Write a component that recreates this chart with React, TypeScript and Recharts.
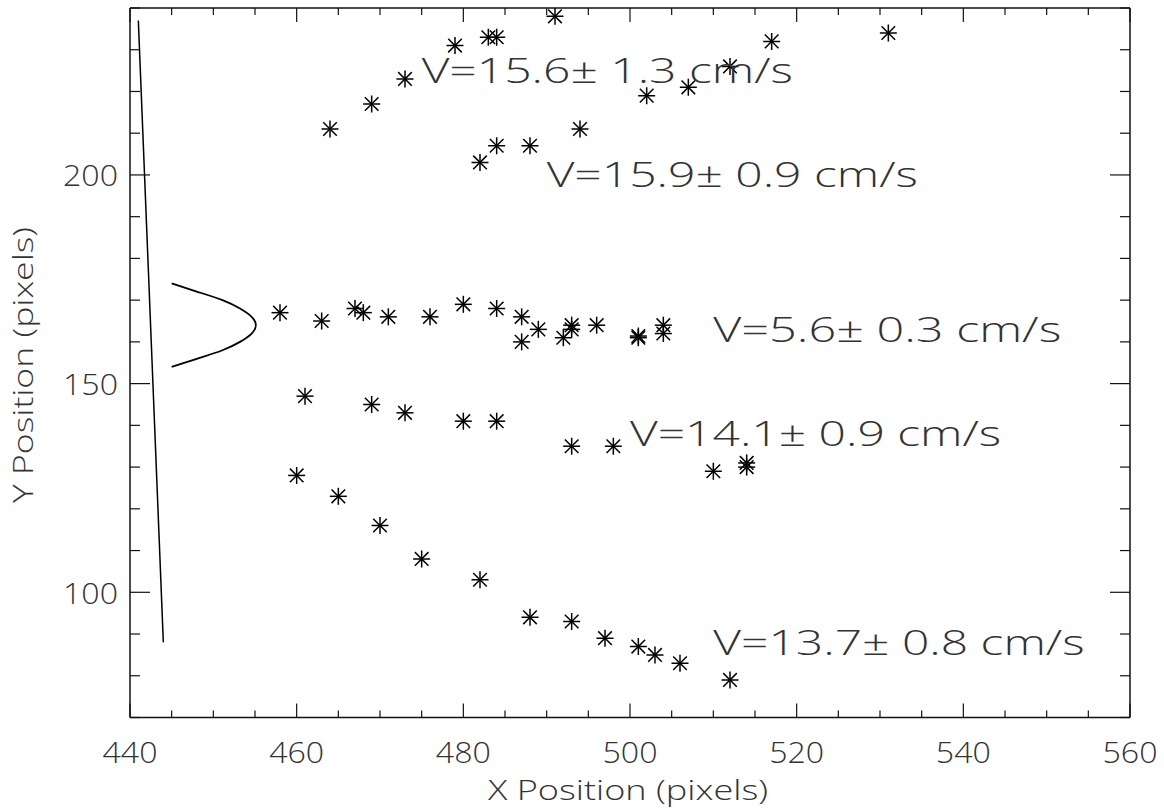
import React from 'react';
import { ScatterChart, Scatter, XAxis, YAxis } from 'recharts';

// axis ticks
const xTicks = [440, 445, 450, 455, 460, 465, 470, 475, 480, 485, 490, 495, 500, 505, 510, 515, 520, 525, 530, 535, 540, 545, 550, 555, 560];
const xMajor = [440, 460, 480, 500, 520, 540, 560];
const yTicks = [70, 80, 90, 100, 110, 120, 130, 140, 150, 160, 170, 180, 190, 200, 210, 220, 230, 240];
const yMajor = [100, 150, 200];

// tracked particles, one list per fitted group
const groupV156 = [
  { x: 464, y: 211 }, { x: 469, y: 217 }, { x: 473, y: 223 }, { x: 479, y: 231 },
  { x: 483, y: 233 }, { x: 484, y: 233 }, { x: 491, y: 238 },
];
const groupV159 = [
  { x: 482, y: 203 }, { x: 484, y: 207 }, { x: 488, y: 207 }, { x: 494, y: 211 },
  { x: 502, y: 219 }, { x: 507, y: 221 }, { x: 512, y: 226 }, { x: 517, y: 232 }, { x: 531, y: 234 },
];
const groupV56 = [
  { x: 458, y: 167 }, { x: 463, y: 165 }, { x: 467, y: 168 }, { x: 468, y: 167 }, { x: 471, y: 166 },
  { x: 476, y: 166 }, { x: 480, y: 169 }, { x: 484, y: 168 }, { x: 487, y: 166 }, { x: 487, y: 160 },
  { x: 489, y: 163 }, { x: 492, y: 161 }, { x: 493, y: 164 }, { x: 493, y: 163 }, { x: 496, y: 164 },
  { x: 501, y: 161 }, { x: 501, y: 161.4 }, { x: 504, y: 164 }, { x: 504, y: 162 },
];
const groupV141 = [
  { x: 461, y: 147 }, { x: 469, y: 145 }, { x: 473, y: 143 }, { x: 480, y: 141 }, { x: 484, y: 141 },
  { x: 493, y: 135 }, { x: 498, y: 135 }, { x: 510, y: 129 }, { x: 514, y: 130 }, { x: 514, y: 131 },
];
const groupV137 = [
  { x: 460, y: 128 }, { x: 465, y: 123 }, { x: 470, y: 116 }, { x: 475, y: 108 }, { x: 482, y: 103 },
  { x: 488, y: 94 }, { x: 493, y: 93 }, { x: 497, y: 89 }, { x: 501, y: 87 }, { x: 503, y: 85 },
  { x: 506, y: 83 }, { x: 512, y: 79 },
];

// slit edge and flow profile
const slitLine = [{ x: 441, y: 237 }, { x: 444, y: 88 }];
const profile = [
  { x: 445.0, y: 174 }, { x: 448.1, y: 172 }, { x: 451.1, y: 170 }, { x: 453.2, y: 168 },
  { x: 454.6, y: 166 }, { x: 455.1, y: 164 }, { x: 454.6, y: 162 }, { x: 453.2, y: 160 },
  { x: 451.1, y: 158 }, { x: 448.1, y: 156 }, { x: 445.0, y: 154 },
];

// fit annotations (anchored at text start / baseline)
const annotations = [
  { x: 475, y: 222, text: 'V=15.6\u00b1 1.3 cm/s' },
  { x: 490, y: 197, text: 'V=15.9\u00b1 0.9 cm/s' },
  { x: 510, y: 160, text: 'V=5.6\u00b1 0.3 cm/s' },
  { x: 500, y: 135, text: 'V=14.1\u00b1 0.9 cm/s' },
  { x: 510, y: 85, text: 'V=13.7\u00b1 0.8 cm/s' },
];

const FONT = '"Open Sans", "DejaVu Sans", sans-serif';
const INK = '#111';
const TEXT = '#333';

const Star = (props: any) => {
  const { cx, cy } = props;
  if (cx == null || cy == null) return <g />;
  const a = 8.5;
  const d = 6.8;
  return (
    <g stroke="#000" strokeWidth={1.5}>
      <line x1={cx - a} y1={cy} x2={cx + a} y2={cy} />
      <line x1={cx} y1={cy - a} x2={cx} y2={cy + a} />
      <line x1={cx - d} y1={cy - d} x2={cx + d} y2={cy + d} />
      <line x1={cx - d} y1={cy + d} x2={cx + d} y2={cy - d} />
    </g>
  );
};

const NoDot = () => <g />;

const Annotation = (props: any) => {
  const { cx, cy, payload } = props;
  if (cx == null || cy == null) return <g />;
  return (
    <text
      x={cx}
      y={cy}
      fontFamily={FONT}
      fontWeight={300}
      fontSize={35}
      fill={TEXT}
      textLength={payload.text.length * 23.2}
      lengthAdjust="spacingAndGlyphs"
    >
      {payload.text}
    </text>
  );
};

const BottomTick = ({ x, y, payload }: any) => {
  const major = xMajor.includes(payload.value);
  return (
    <g>
      <line x1={x} x2={x} y1={y} y2={y - (major ? 14 : 7)} stroke={INK} strokeWidth={1.2} />
      {major && (
        <text x={x} y={y + 45} textAnchor="middle" fontFamily={FONT} fontWeight={300} fontSize={29} fill={TEXT}
          textLength={55} lengthAdjust="spacingAndGlyphs">
          {payload.value}
        </text>
      )}
    </g>
  );
};

const TopTick = ({ x, y, payload }: any) => {
  const major = xMajor.includes(payload.value);
  return <line x1={x} x2={x} y1={y} y2={y + (major ? 14 : 7)} stroke={INK} strokeWidth={1.2} />;
};

const LeftTick = ({ x, y, payload }: any) => {
  const major = yMajor.includes(payload.value);
  return (
    <g>
      <line x1={x} x2={x + (major ? 20 : 10)} y1={y} y2={y} stroke={INK} strokeWidth={1.2} />
      {major && (
        <text x={x - 12} y={y + 11.5} textAnchor="end" fontFamily={FONT} fontWeight={300} fontSize={29} fill={TEXT}
          textLength={55} lengthAdjust="spacingAndGlyphs">
          {payload.value}
        </text>
      )}
    </g>
  );
};

const RightTick = ({ x, y, payload }: any) => {
  const major = yMajor.includes(payload.value);
  return <line x1={x} x2={x - (major ? 20 : 10)} y1={y} y2={y} stroke={INK} strokeWidth={1.2} />;
};

const XTitle = () => (
  <text x={628} y={800} textAnchor="middle" fontFamily={FONT} fontWeight={300} fontSize={28} fill={TEXT}
    textLength={280} lengthAdjust="spacingAndGlyphs">
    X Position (pixels)
  </text>
);

const YTitle = () => (
  <text x={33} y={365} transform="rotate(-90, 33, 365)" textAnchor="middle" fontFamily={FONT} fontWeight={300}
    fontSize={28} fill={TEXT} textLength={276} lengthAdjust="spacingAndGlyphs">
    Y Position (pixels)
  </text>
);

const axisLine = { stroke: INK, strokeWidth: 1.5 };

export default function App() {
  return (
    <div style={{ position: 'absolute', left: 0, top: 0, background: '#fff' }}>
      <ScatterChart width={1164} height={812} margin={{ top: 0, right: 0, bottom: 0, left: 0 }}>
        <XAxis
          xAxisId="bottom"
          type="number"
          dataKey="x"
          domain={[440, 560]}
          allowDataOverflow
          ticks={xTicks}
          interval={0}
          tickSize={0}
          tickMargin={0}
          tickLine={false}
          tick={<BottomTick />}
          axisLine={axisLine}
          height={94.5}
          label={XTitle}
        />
        <XAxis
          xAxisId="top"
          orientation="top"
          type="number"
          dataKey="x"
          domain={[440, 560]}
          allowDataOverflow
          ticks={xTicks}
          interval={0}
          tickSize={0}
          tickMargin={0}
          tickLine={false}
          tick={<TopTick />}
          axisLine={axisLine}
          height={8}
        />
        <YAxis
          yAxisId="left"
          type="number"
          dataKey="y"
          domain={[70, 240]}
          allowDataOverflow
          ticks={yTicks}
          interval={0}
          tickSize={0}
          tickMargin={0}
          tickLine={false}
          tick={<LeftTick />}
          axisLine={axisLine}
          width={130}
          label={YTitle}
        />
        <YAxis
          yAxisId="right"
          orientation="right"
          type="number"
          dataKey="y"
          domain={[70, 240]}
          allowDataOverflow
          ticks={yTicks}
          interval={0}
          tickSize={0}
          tickMargin={0}
          tickLine={false}
          tick={<RightTick />}
          axisLine={axisLine}
          width={34}
        />
        <Scatter xAxisId="bottom" yAxisId="left" data={slitLine} shape={NoDot}
          line={{ stroke: '#000', strokeWidth: 1.5 }} isAnimationActive={false} />
        <Scatter xAxisId="bottom" yAxisId="left" data={profile} shape={NoDot} lineJointType="natural"
          line={{ stroke: '#000', strokeWidth: 1.8 }} isAnimationActive={false} />
        <Scatter xAxisId="bottom" yAxisId="left" data={groupV156} shape={Star} isAnimationActive={false} />
        <Scatter xAxisId="bottom" yAxisId="left" data={groupV159} shape={Star} isAnimationActive={false} />
        <Scatter xAxisId="bottom" yAxisId="left" data={groupV56} shape={Star} isAnimationActive={false} />
        <Scatter xAxisId="bottom" yAxisId="left" data={groupV141} shape={Star} isAnimationActive={false} />
        <Scatter xAxisId="bottom" yAxisId="left" data={groupV137} shape={Star} isAnimationActive={false} />
        <Scatter xAxisId="top" yAxisId="right" data={annotations} shape={Annotation} isAnimationActive={false} />
      </ScatterChart>
    </div>
  );
}
